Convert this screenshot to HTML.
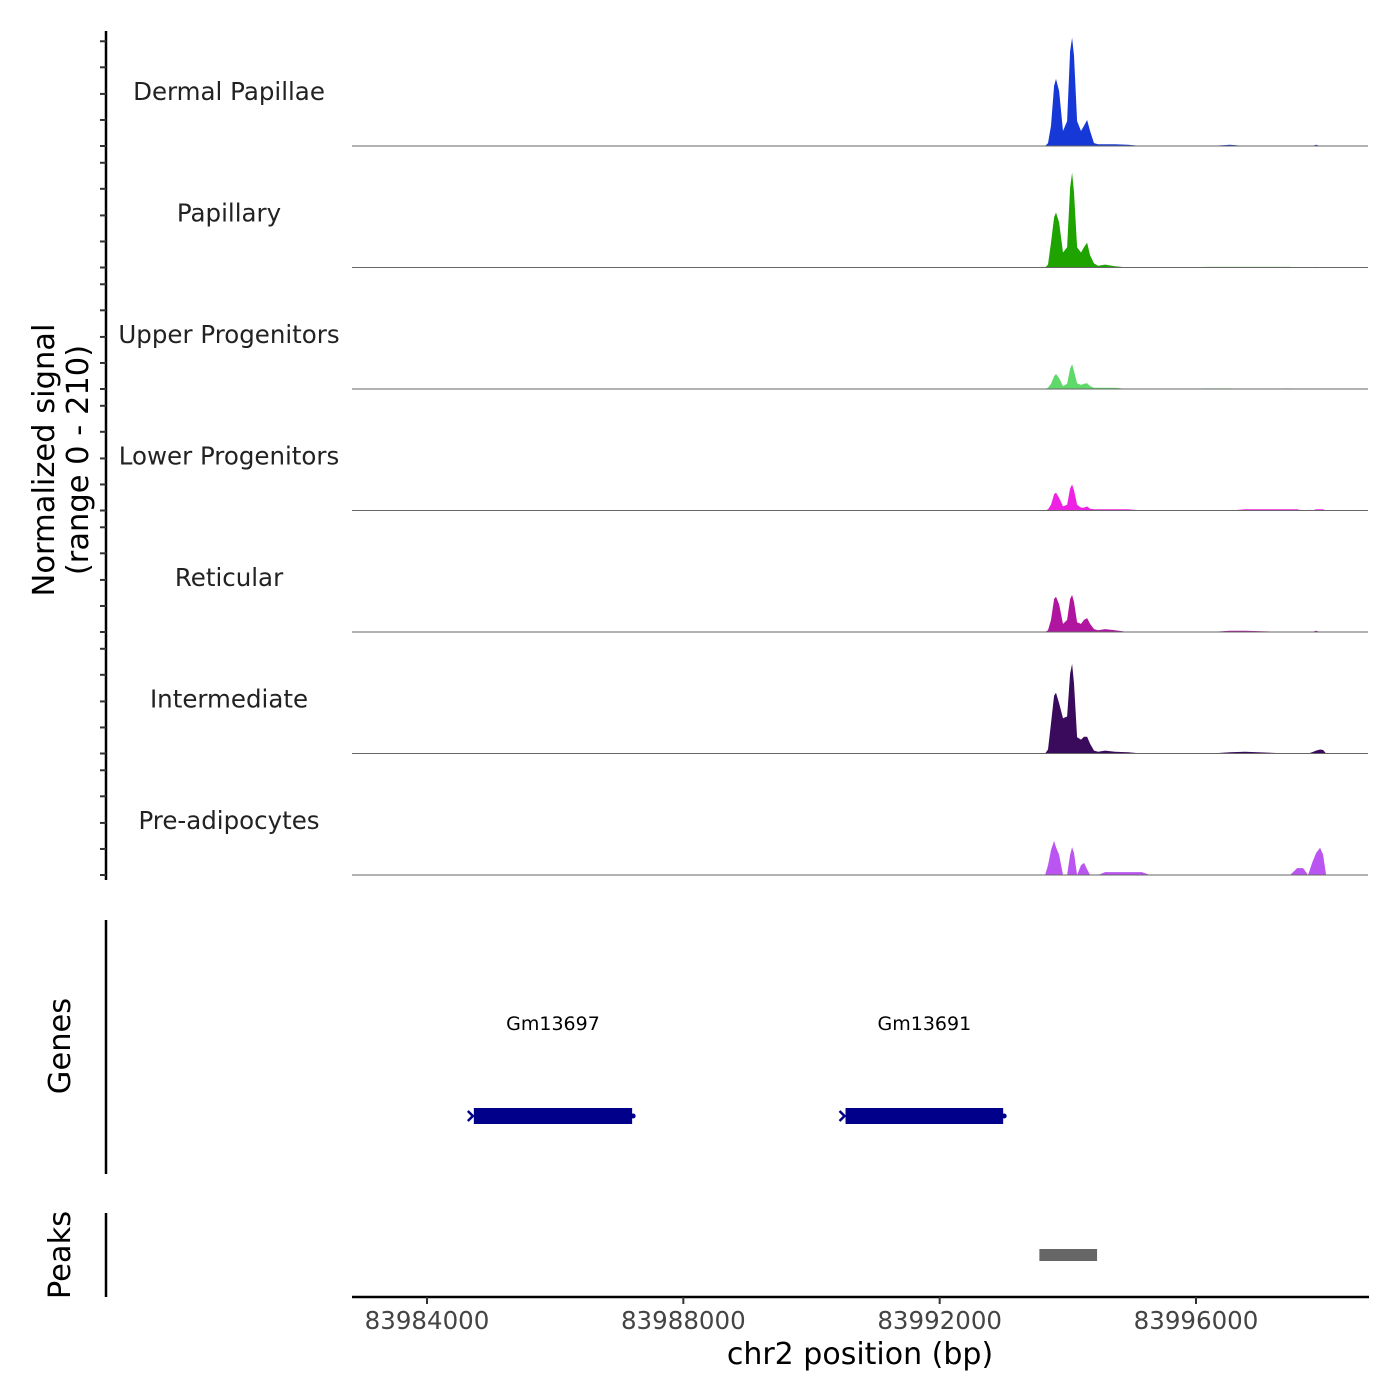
<!DOCTYPE html>
<html><head><meta charset="utf-8"><style>
body{margin:0;background:#fff}
svg{display:block;font-family:"DejaVu Sans","Liberation Sans",sans-serif}
</style></head><body>
<svg id="c" width="1400" height="1400" viewBox="0 0 1400 1400"></svg>
<script>
const positions=[83993645,83993691,83993738,83993785,83993816,83993863,83993925,83993988,83994035,83994066,83994097,83994144,83994206,83994253,83994300,83994347,83994409,83994472,83994581,83994737,83994940,83995158,83995283,83996220,83996532,83996766,83997468,83997577,83997671,83997749,83997811,83997874,83997936,83997983,83998030];
const trackNames=["Dermal Papillae","Papillary","Upper Progenitors","Lower Progenitors","Reticular","Intermediate","Pre-adipocytes"];
const trackColors=["#1638d6","#1fa300","#5fd96a","#ee22e2","#b0159f","#3a0a5c","#bb55f2"];
const sigDermal=[0,5,35,104,116,95,26,43,164,187,156,43,26,35,45,26,5,3,3,3,2,0,0,0,2,0,0,0,0,0,0,2,0,0,0];
const sigPapillary=[0,5,43,87,95,78,26,35,138,164,130,35,26,35,43,21,7,3,5,2,0,0,0,1,1,1,1,0,0,0,0,1,0,0,0];
const sigUpper=[0,2,9,22,26,19,5,9,35,43,31,10,7,9,10,5,2,2,2,2,0,0,0,1,1,0,1,0,0,0,0,1,0,0,0];
const sigLower=[0,2,10,28,31,22,7,10,38,45,35,10,5,5,7,3,2,2,2,2,2,0,0,0,0,2,2,2,0,0,0,2,2,2,0];
const sigReticular=[0,3,21,57,61,48,14,21,57,64,52,17,14,21,24,14,5,3,5,3,0,0,0,0,2,2,0,0,0,0,0,2,0,0,0];
const sigIntermediate=[0,7,52,100,105,87,61,64,138,155,121,28,24,29,29,17,5,3,5,3,2,0,0,0,2,3,0,0,0,0,2,5,7,6,0];
const sigPreadipo=[0,17,43,59,48,35,0,0,35,48,38,0,17,21,10,0,0,0,5,5,5,5,0,0,0,0,0,12,12,0,21,38,47,35,0];
const allSignals=[sigDermal,sigPapillary,sigUpper,sigLower,sigReticular,sigIntermediate,sigPreadipo];
const xTicks=[83984000,83988000,83992000,83996000];
const tickValues=[0,45,90,136,181];
const geneNames=["Gm13697","Gm13691"];
const geneStarts=[83984731,83990531];
const geneEnds=[83987201,83992991];
const peakStarts=[83993556];
const peakEnds=[83994456];

const NS="http://www.w3.org/2000/svg";
const svg=document.getElementById('c');
const X0=83984000, PX0=427, PXPER=769/12000;
const x=v=>PX0+(v-X0)*PXPER;
const trackH=121.5, firstBase=146, yMax=210;
const yPx=v=>v*trackH/yMax;
function el(t,a,p){const e=document.createElementNS(NS,t);for(const k in a)e.setAttribute(k,a[k]);(p||svg).appendChild(e);return e;}

let ax=el('line',{x1:106,y1:31,x2:106,y2:880,stroke:'#000','stroke-width':2.5});


allSignals.forEach((sig,i)=>{
  const base=firstBase+i*trackH;
  tickValues.forEach(tv=>{
    const t=el('line',{x1:100,x2:106,y1:base-yPx(tv),y2:base-yPx(tv),stroke:'#333','stroke-width':2});
    
    
  });
  let d='M'+x(positions[0])+','+base;
  sig.forEach((v,j)=>{d+=' L'+x(positions[j]).toFixed(1)+','+(base-yPx(v)).toFixed(1);});
  d+=' L'+x(positions[positions.length-1])+','+base+' Z';
  const p=el('path',{d:d,fill:trackColors[i]});
  
  
  const bl=el('line',{x1:352,x2:1368,y1:base,y2:base,stroke:'#666','stroke-width':1});
  
  
  const tx=el('text',{x:229,y:base-46,'text-anchor':'middle','font-size':24.5,fill:'#222'});
  tx.textContent=trackNames[i];
  
  
});
let yt=el('text',{transform:'translate(54,460) rotate(-90)','text-anchor':'middle','font-size':30.5,fill:'#000'});


yt.innerHTML='<tspan x="0" dy="0">Normalized signal</tspan><tspan x="0" dy="34">(range 0 - 210)</tspan>';

let ga=el('line',{x1:106,y1:920,x2:106,y2:1174,stroke:'#000','stroke-width':2.5});


let gt=el('text',{transform:'translate(70,1046) rotate(-90)','text-anchor':'middle','font-size':30.5});
gt.textContent='Genes';


geneNames.forEach((g,i)=>{
  const x1=x(geneStarts[i]),x2=x(geneEnds[i]);
  const r=el('rect',{x:x1,y:1108,width:x2-x1,height:16,fill:'#00008b'});
  
  
  const m=el('path',{d:`M${x1-6},1111 L${x1-1},1116 L${x1-6},1121`,stroke:'#00008b','stroke-width':2.5,fill:'none'});
  
  
  const c=el('circle',{cx:x2+1,cy:1116,r:2.5,fill:'#00008b'});
  
  
  const t=el('text',{x:(x1+x2)/2,y:1030,'text-anchor':'middle','font-size':19});
  t.textContent=g;
  
  
});

let pa=el('line',{x1:106,y1:1213,x2:106,y2:1297,stroke:'#000','stroke-width':2.5});


let pt=el('text',{transform:'translate(70,1255) rotate(-90)','text-anchor':'middle','font-size':30.5});
pt.textContent='Peaks';


peakStarts.forEach((s,i)=>{
  const r=el('rect',{x:x(s),y:1249,width:x(peakEnds[i])-x(s),height:12,fill:'#666'});
  
  
});

let xa=el('line',{x1:352,y1:1297,x2:1369,y2:1297,stroke:'#000','stroke-width':2.5});


xTicks.forEach(v=>{
  const t=el('line',{x1:x(v),x2:x(v),y1:1297,y2:1304,stroke:'#333','stroke-width':2});
  
  
  const l=el('text',{x:x(v),y:1329,'text-anchor':'middle','font-size':24.5,fill:'#444'});
  l.textContent=v;
  
  
});
let xt=el('text',{x:860,y:1364,'text-anchor':'middle','font-size':30});
xt.textContent='chr2 position (bp)';


</script>
</body></html>
